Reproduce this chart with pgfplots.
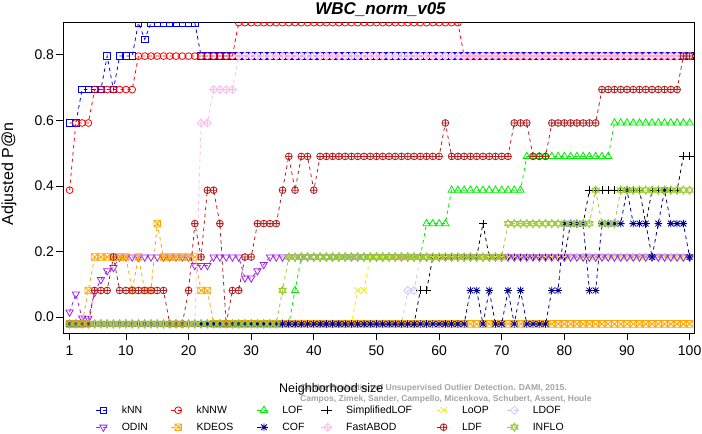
\documentclass[border=0pt]{standalone}
\usepackage{fontspec}
\setmainfont{Liberation Sans}
\usepackage{pgfplots}
\usepackage{pgfplotstable}
\pgfplotsset{compat=1.18}
\usetikzlibrary{plotmarks}

\definecolor{cKNN}{HTML}{0000FF}
\definecolor{cKNNW}{HTML}{FF0000}
\definecolor{cLOF}{HTML}{00EE00}
\definecolor{cLOOP}{HTML}{EEEE00}
\definecolor{cLDOF}{HTML}{C8C8FF}
\definecolor{cODIN}{HTML}{A020F0}
\definecolor{cKDEOS}{HTML}{FFA500}
\definecolor{cCOF}{HTML}{000090}
\definecolor{cFAB}{HTML}{FFBBEE}
\definecolor{cLDF}{HTML}{B22222}
\definecolor{cINF}{HTML}{9ACD32}

\pgfdeclareplotmark{sqx}{%
  \pgfsetdash{}{0pt}%
  \pgfpathrectangle{\pgfqpoint{-\pgfplotmarksize}{-\pgfplotmarksize}}{\pgfqpoint{2\pgfplotmarksize}{2\pgfplotmarksize}}%
  \pgfpathmoveto{\pgfqpoint{-\pgfplotmarksize}{-\pgfplotmarksize}}\pgfpathlineto{\pgfqpoint{\pgfplotmarksize}{\pgfplotmarksize}}%
  \pgfpathmoveto{\pgfqpoint{-\pgfplotmarksize}{\pgfplotmarksize}}\pgfpathlineto{\pgfqpoint{\pgfplotmarksize}{-\pgfplotmarksize}}%
  \pgfusepathqstroke}
\pgfdeclareplotmark{rsq}{%
  \pgfsetdash{}{0pt}%
  \pgfpathrectangle{\pgfqpoint{-\pgfplotmarksize}{-\pgfplotmarksize}}{\pgfqpoint{2\pgfplotmarksize}{2\pgfplotmarksize}}%
  \pgfusepathqstroke}
\pgfdeclareplotmark{rcirc}{%
  \pgfsetdash{}{0pt}%
  \pgfpathcircle{\pgfpointorigin}{\pgfplotmarksize}%
  \pgfusepathqstroke}
\pgfdeclareplotmark{rplus}{%
  \pgfsetdash{}{0pt}%
  \pgfpathmoveto{\pgfqpoint{-\pgfplotmarksize}{0pt}}\pgfpathlineto{\pgfqpoint{\pgfplotmarksize}{0pt}}%
  \pgfpathmoveto{\pgfqpoint{0pt}{-\pgfplotmarksize}}\pgfpathlineto{\pgfqpoint{0pt}{\pgfplotmarksize}}%
  \pgfusepathqstroke}
\pgfdeclareplotmark{rx}{%
  \pgfsetdash{}{0pt}%
  \pgfpathmoveto{\pgfqpoint{-\pgfplotmarksize}{-\pgfplotmarksize}}\pgfpathlineto{\pgfqpoint{\pgfplotmarksize}{\pgfplotmarksize}}%
  \pgfpathmoveto{\pgfqpoint{-\pgfplotmarksize}{\pgfplotmarksize}}\pgfpathlineto{\pgfqpoint{\pgfplotmarksize}{-\pgfplotmarksize}}%
  \pgfusepathqstroke}
\pgfdeclareplotmark{rstar}{%
  \pgfsetdash{}{0pt}%
  \pgfpathmoveto{\pgfqpoint{-\pgfplotmarksize}{0pt}}\pgfpathlineto{\pgfqpoint{\pgfplotmarksize}{0pt}}%
  \pgfpathmoveto{\pgfqpoint{0pt}{-\pgfplotmarksize}}\pgfpathlineto{\pgfqpoint{0pt}{\pgfplotmarksize}}%
  \pgfpathmoveto{\pgfqpoint{-.75\pgfplotmarksize}{-.75\pgfplotmarksize}}\pgfpathlineto{\pgfqpoint{.75\pgfplotmarksize}{.75\pgfplotmarksize}}%
  \pgfpathmoveto{\pgfqpoint{-.75\pgfplotmarksize}{.75\pgfplotmarksize}}\pgfpathlineto{\pgfqpoint{.75\pgfplotmarksize}{-.75\pgfplotmarksize}}%
  \pgfusepathqstroke}
\pgfdeclareplotmark{rdiam}{%
  \pgfsetdash{}{0pt}%
  \pgfpathmoveto{\pgfqpoint{0pt}{\pgfplotmarksize}}\pgfpathlineto{\pgfqpoint{\pgfplotmarksize}{0pt}}%
  \pgfpathlineto{\pgfqpoint{0pt}{-\pgfplotmarksize}}\pgfpathlineto{\pgfqpoint{-\pgfplotmarksize}{0pt}}\pgfpathclose
  \pgfusepathqstroke}
\pgfdeclareplotmark{dplus}{%
  \pgfsetdash{}{0pt}%
  \pgfpathmoveto{\pgfqpoint{0pt}{\pgfplotmarksize}}\pgfpathlineto{\pgfqpoint{\pgfplotmarksize}{0pt}}%
  \pgfpathlineto{\pgfqpoint{0pt}{-\pgfplotmarksize}}\pgfpathlineto{\pgfqpoint{-\pgfplotmarksize}{0pt}}\pgfpathclose
  \pgfpathmoveto{\pgfqpoint{-\pgfplotmarksize}{0pt}}\pgfpathlineto{\pgfqpoint{\pgfplotmarksize}{0pt}}%
  \pgfpathmoveto{\pgfqpoint{0pt}{-\pgfplotmarksize}}\pgfpathlineto{\pgfqpoint{0pt}{\pgfplotmarksize}}%
  \pgfusepathqstroke}
\pgfdeclareplotmark{roplus}{%
  \pgfsetdash{}{0pt}%
  \pgfpathcircle{\pgfpointorigin}{\pgfplotmarksize}%
  \pgfpathmoveto{\pgfqpoint{-\pgfplotmarksize}{0pt}}\pgfpathlineto{\pgfqpoint{\pgfplotmarksize}{0pt}}%
  \pgfpathmoveto{\pgfqpoint{0pt}{-\pgfplotmarksize}}\pgfpathlineto{\pgfqpoint{0pt}{\pgfplotmarksize}}%
  \pgfusepathqstroke}
\pgfdeclareplotmark{tridown}{%
  \pgfsetdash{}{0pt}%
  \pgfpathmoveto{\pgfqpoint{0pt}{-1.1\pgfplotmarksize}}%
  \pgfpathlineto{\pgfqpoint{.95\pgfplotmarksize}{.55\pgfplotmarksize}}%
  \pgfpathlineto{\pgfqpoint{-.95\pgfplotmarksize}{.55\pgfplotmarksize}}\pgfpathclose
  \pgfusepathqstroke}
\pgfdeclareplotmark{triup}{%
  \pgfsetdash{}{0pt}%
  \pgfpathmoveto{\pgfqpoint{0pt}{1.1\pgfplotmarksize}}%
  \pgfpathlineto{\pgfqpoint{.95\pgfplotmarksize}{-.55\pgfplotmarksize}}%
  \pgfpathlineto{\pgfqpoint{-.95\pgfplotmarksize}{-.55\pgfplotmarksize}}\pgfpathclose
  \pgfusepathqstroke}
\pgfdeclareplotmark{david}{%
  \pgfsetdash{}{0pt}%
  \pgfpathmoveto{\pgfqpoint{0pt}{1.1\pgfplotmarksize}}%
  \pgfpathlineto{\pgfqpoint{.95\pgfplotmarksize}{-.55\pgfplotmarksize}}%
  \pgfpathlineto{\pgfqpoint{-.95\pgfplotmarksize}{-.55\pgfplotmarksize}}\pgfpathclose
  \pgfpathmoveto{\pgfqpoint{0pt}{-1.1\pgfplotmarksize}}%
  \pgfpathlineto{\pgfqpoint{.95\pgfplotmarksize}{.55\pgfplotmarksize}}%
  \pgfpathlineto{\pgfqpoint{-.95\pgfplotmarksize}{.55\pgfplotmarksize}}\pgfpathclose
  \pgfusepathqstroke}

\pgfplotstableread{
k knn knnw lof slof loop ldof odin kdeos cof fabod ldf inflo
1 0.592 0.387 -0.021 -0.021 -0.021 -0.021 0.015 -0.021 -0.021 -0.021 -0.021 -0.021
2 0.592 0.592 -0.021 -0.021 -0.021 -0.021 0.070 -0.021 -0.021 -0.021 -0.021 -0.021
3 0.694 0.592 -0.021 -0.021 -0.021 -0.021 -0.003 -0.021 -0.021 -0.021 -0.021 -0.021
4 0.694 0.592 -0.021 -0.021 -0.021 -0.021 -0.004 0.081 -0.021 -0.021 -0.021 -0.021
5 0.694 0.694 -0.021 -0.021 -0.021 -0.021 0.075 0.183 -0.021 -0.021 0.081 -0.021
6 0.694 0.694 -0.021 -0.021 -0.021 -0.021 0.114 0.183 -0.021 -0.021 0.081 -0.021
7 0.796 0.694 -0.021 -0.021 -0.021 -0.021 0.141 0.183 -0.021 -0.021 0.081 -0.021
8 0.694 0.694 -0.021 -0.021 -0.021 -0.021 0.151 0.183 -0.021 -0.021 0.183 -0.021
9 0.796 0.694 -0.021 -0.021 -0.021 -0.021 0.183 0.183 -0.021 -0.021 0.081 -0.021
10 0.796 0.694 -0.021 -0.021 -0.021 -0.021 0.183 0.183 -0.021 -0.021 0.081 -0.021
11 0.796 0.694 -0.021 -0.021 -0.021 -0.021 0.183 0.081 -0.021 -0.021 0.081 -0.021
12 0.898 0.796 -0.021 -0.021 -0.021 -0.021 0.183 0.183 -0.021 -0.021 0.081 -0.021
13 0.847 0.796 -0.021 -0.021 -0.021 -0.021 0.183 0.081 -0.021 -0.021 0.081 -0.021
14 0.898 0.796 -0.021 -0.021 -0.021 -0.021 0.183 0.081 -0.021 -0.021 0.081 -0.021
15 0.898 0.796 -0.021 -0.021 -0.021 -0.021 0.183 0.285 -0.021 -0.021 0.081 -0.021
16 0.898 0.796 -0.021 -0.021 -0.021 -0.021 0.183 0.183 -0.021 -0.021 0.081 -0.021
17 0.898 0.796 -0.021 -0.021 -0.021 -0.021 0.183 0.183 -0.021 -0.021 -0.021 -0.021
18 0.898 0.796 -0.021 -0.021 -0.021 -0.021 0.183 0.183 -0.021 -0.021 -0.021 -0.021
19 0.898 0.796 -0.021 -0.021 -0.021 -0.021 0.183 0.183 -0.021 -0.021 -0.021 -0.021
20 0.898 0.796 -0.021 -0.021 -0.021 -0.021 0.183 0.183 -0.021 -0.021 0.081 -0.021
21 0.898 0.796 -0.021 -0.021 -0.021 -0.021 0.157 0.183 -0.021 -0.021 0.285 -0.021
22 0.796 0.796 -0.021 -0.021 -0.021 -0.021 0.157 0.081 -0.021 0.592 0.183 -0.021
23 0.796 0.796 -0.021 -0.021 -0.021 -0.021 0.157 0.081 -0.021 0.592 0.387 -0.021
24 0.796 0.796 -0.021 -0.021 -0.021 -0.021 0.183 -0.021 -0.021 0.694 0.387 -0.021
25 0.796 0.796 -0.021 -0.021 -0.021 -0.021 0.183 -0.021 -0.021 0.694 0.285 -0.021
26 0.796 0.796 -0.021 -0.021 -0.021 -0.021 0.183 -0.021 -0.021 0.694 -0.021 -0.021
27 0.796 0.796 -0.021 -0.021 -0.021 -0.021 0.183 -0.021 -0.021 0.694 0.081 -0.021
28 0.796 0.898 -0.021 -0.021 -0.021 -0.021 0.183 -0.021 -0.021 0.796 0.081 -0.021
29 0.796 0.898 -0.021 -0.021 -0.021 -0.021 0.119 -0.021 -0.021 0.796 0.183 -0.021
30 0.796 0.898 -0.021 -0.021 -0.021 -0.021 0.119 -0.021 -0.021 0.796 0.183 -0.021
31 0.796 0.898 -0.021 -0.021 -0.021 -0.021 0.141 -0.021 -0.021 0.796 0.285 -0.021
32 0.796 0.898 -0.021 -0.021 -0.021 -0.021 0.160 -0.021 -0.021 0.796 0.285 -0.021
33 0.796 0.898 -0.021 -0.021 -0.021 -0.021 0.183 -0.021 -0.021 0.796 0.285 -0.021
34 0.796 0.898 -0.021 -0.021 -0.021 -0.021 0.183 -0.021 -0.021 0.796 0.285 -0.021
35 0.796 0.898 -0.021 -0.021 -0.021 -0.021 0.183 -0.021 -0.021 0.796 0.387 0.081
36 0.796 0.898 -0.021 -0.021 -0.021 -0.021 0.183 -0.021 -0.021 0.796 0.490 0.183
37 0.796 0.898 0.081 -0.021 -0.021 -0.021 0.183 -0.021 -0.021 0.796 0.387 0.183
38 0.796 0.898 0.183 -0.021 -0.021 -0.021 0.183 -0.021 -0.021 0.796 0.490 0.183
39 0.796 0.898 0.183 -0.021 -0.021 -0.021 0.183 -0.021 -0.021 0.796 0.490 0.183
40 0.796 0.898 0.183 -0.021 -0.021 -0.021 0.183 -0.021 -0.021 0.796 0.387 0.183
41 0.796 0.898 0.183 -0.021 -0.021 -0.021 0.183 -0.021 -0.021 0.796 0.490 0.183
42 0.796 0.898 0.183 -0.021 -0.021 -0.021 0.183 -0.021 -0.021 0.796 0.490 0.183
43 0.796 0.898 0.183 -0.021 -0.021 -0.021 0.183 -0.021 -0.021 0.796 0.490 0.183
44 0.796 0.898 0.183 -0.021 -0.021 -0.021 0.183 -0.021 -0.021 0.796 0.490 0.183
45 0.796 0.898 0.183 -0.021 -0.021 -0.021 0.183 -0.021 -0.021 0.796 0.490 0.183
46 0.796 0.898 0.183 -0.021 -0.021 -0.021 0.183 -0.021 -0.021 0.796 0.490 0.183
47 0.796 0.898 0.183 -0.021 0.081 -0.021 0.183 -0.021 -0.021 0.796 0.490 0.183
48 0.796 0.898 0.183 -0.021 0.081 -0.021 0.183 -0.021 -0.021 0.796 0.490 0.183
49 0.796 0.898 0.183 -0.021 0.183 -0.021 0.183 -0.021 -0.021 0.796 0.490 0.183
50 0.796 0.898 0.183 -0.021 0.183 -0.021 0.183 -0.021 -0.021 0.796 0.490 0.183
51 0.796 0.898 0.183 -0.021 0.183 -0.021 0.183 -0.021 -0.021 0.796 0.490 0.183
52 0.796 0.898 0.183 -0.021 0.183 -0.021 0.183 -0.021 -0.021 0.796 0.490 0.183
53 0.796 0.898 0.183 -0.021 0.183 -0.021 0.183 -0.021 -0.021 0.796 0.490 0.183
54 0.796 0.898 0.183 -0.021 0.183 -0.021 0.183 -0.021 -0.021 0.796 0.490 0.183
55 0.796 0.898 0.183 -0.021 0.183 0.081 0.183 -0.021 -0.021 0.796 0.490 0.183
56 0.796 0.898 0.183 -0.021 0.183 0.081 0.183 -0.021 -0.021 0.796 0.490 0.183
57 0.796 0.898 0.183 0.081 0.183 0.183 0.183 -0.021 -0.021 0.796 0.490 0.183
58 0.796 0.898 0.285 0.081 0.183 0.183 0.183 -0.021 -0.021 0.796 0.490 0.183
59 0.796 0.898 0.285 0.183 0.183 0.183 0.183 -0.021 -0.021 0.796 0.490 0.183
60 0.796 0.898 0.285 0.183 0.183 0.183 0.183 -0.021 -0.021 0.796 0.490 0.183
61 0.796 0.898 0.285 0.183 0.183 0.183 0.183 -0.021 -0.021 0.796 0.592 0.183
62 0.796 0.898 0.387 0.183 0.183 0.183 0.183 -0.021 -0.021 0.796 0.490 0.183
63 0.796 0.898 0.387 0.183 0.183 0.183 0.183 -0.021 -0.021 0.796 0.490 0.183
64 0.796 0.796 0.387 0.183 0.183 0.183 0.183 -0.021 -0.021 0.796 0.490 0.183
65 0.796 0.796 0.387 0.183 0.183 0.183 0.183 -0.021 0.081 0.796 0.490 0.183
66 0.796 0.796 0.387 0.183 0.183 0.183 0.183 -0.021 0.081 0.796 0.490 0.183
67 0.796 0.796 0.387 0.285 0.183 0.183 0.183 -0.021 -0.021 0.796 0.490 0.183
68 0.796 0.796 0.387 0.183 0.183 0.183 0.183 -0.021 0.081 0.796 0.490 0.183
69 0.796 0.796 0.387 0.183 0.183 0.183 0.183 -0.021 -0.021 0.796 0.490 0.183
70 0.796 0.796 0.387 0.183 0.183 0.183 0.183 -0.021 -0.021 0.796 0.490 0.183
71 0.796 0.796 0.387 0.183 0.183 0.183 0.183 -0.021 0.081 0.796 0.490 0.285
72 0.796 0.796 0.387 0.183 0.183 0.183 0.183 -0.021 -0.021 0.796 0.592 0.285
73 0.796 0.796 0.387 0.183 0.183 0.183 0.183 -0.021 0.081 0.796 0.592 0.285
74 0.796 0.796 0.490 0.183 0.183 0.183 0.183 -0.021 -0.021 0.796 0.592 0.285
75 0.796 0.796 0.490 0.183 0.183 0.183 0.183 -0.021 -0.021 0.796 0.490 0.285
76 0.796 0.796 0.490 0.183 0.183 0.183 0.183 -0.021 -0.021 0.796 0.490 0.285
77 0.796 0.796 0.490 0.183 0.183 0.183 0.183 -0.021 -0.021 0.796 0.490 0.285
78 0.796 0.796 0.490 0.183 0.183 0.183 0.183 -0.021 0.081 0.796 0.592 0.285
79 0.796 0.796 0.490 0.183 0.183 0.183 0.183 -0.021 0.081 0.796 0.592 0.285
80 0.796 0.796 0.490 0.183 0.183 0.183 0.183 -0.021 0.285 0.796 0.592 0.285
81 0.796 0.796 0.490 0.285 0.183 0.183 0.183 -0.021 0.285 0.796 0.592 0.285
82 0.796 0.796 0.490 0.285 0.183 0.183 0.183 -0.021 0.285 0.796 0.592 0.285
83 0.796 0.796 0.490 0.285 0.183 0.183 0.183 -0.021 0.285 0.796 0.592 0.285
84 0.796 0.796 0.490 0.387 0.183 0.183 0.183 -0.021 0.081 0.796 0.592 0.285
85 0.796 0.796 0.490 0.387 0.183 0.183 0.183 -0.021 0.081 0.796 0.592 0.387
86 0.796 0.796 0.490 0.387 0.183 0.183 0.183 -0.021 0.285 0.796 0.694 0.285
87 0.796 0.796 0.490 0.387 0.183 0.183 0.183 -0.021 0.285 0.796 0.694 0.285
88 0.796 0.796 0.592 0.387 0.183 0.183 0.183 -0.021 0.285 0.796 0.694 0.285
89 0.796 0.796 0.592 0.387 0.183 0.183 0.183 -0.021 0.285 0.796 0.694 0.387
90 0.796 0.796 0.592 0.387 0.183 0.183 0.183 -0.021 0.387 0.796 0.694 0.387
91 0.796 0.796 0.592 0.387 0.183 0.183 0.183 -0.021 0.285 0.796 0.694 0.387
92 0.796 0.796 0.592 0.387 0.183 0.183 0.183 -0.021 0.285 0.796 0.694 0.387
93 0.796 0.796 0.592 0.285 0.183 0.183 0.183 -0.021 0.285 0.796 0.694 0.387
94 0.796 0.796 0.592 0.387 0.183 0.183 0.183 -0.021 0.183 0.796 0.694 0.387
95 0.796 0.796 0.592 0.387 0.183 0.183 0.183 -0.021 0.285 0.796 0.694 0.387
96 0.796 0.796 0.592 0.387 0.183 0.183 0.183 -0.021 0.387 0.796 0.694 0.387
97 0.796 0.796 0.592 0.387 0.183 0.183 0.183 -0.021 0.285 0.796 0.694 0.387
98 0.796 0.796 0.592 0.387 0.183 0.183 0.183 -0.021 0.285 0.796 0.694 0.387
99 0.796 0.796 0.592 0.490 0.183 0.183 0.183 -0.021 0.285 0.796 0.796 0.387
100 0.796 0.796 0.592 0.490 0.183 0.183 0.183 -0.021 0.183 0.796 0.796 0.387
}\datatab

\begin{document}
\begin{tikzpicture}
\useasboundingbox (-63bp,-101bp) rectangle (639bp,333bp);
\node[anchor=base west, text=black!36, inner sep=0pt, font=\fontsize{8.54bp}{10bp}\selectfont\bfseries] at (237bp,-57.7bp) {On the Evaluation of Unsupervised Outlier Detection. DAMI, 2015.};
\node[anchor=base west, text=black!36, inner sep=0pt, font=\fontsize{8.54bp}{10bp}\selectfont\bfseries] at (237bp,-68.7bp) {Campos, Zimek, Sander, Campello, Micenkova, Schubert, Assent, Houle};
\begin{axis}[
  width=631bp, height=311bp, scale only axis,
  xmin=-0.05, xmax=100.7, ymin=-0.0487, ymax=0.9,
  xtick={1,10,20,30,40,50,60,70,80,90,100},
  ytick={0,0.2,0.4,0.6,0.8}, yticklabels={0.0,0.2,0.4,0.6,0.8},
  tick pos=left, tick align=outside, major tick length=7bp,
  tick style={black, line width=0.8bp, solid},
  axis line style={line width=0.8bp},
  /pgf/number format/assume math mode=true,
  tick label style={font=\fontsize{14bp}{16bp}\selectfont},
  xticklabel style={yshift=-2bp},
  yticklabel style={xshift=1.5bp},
  title={WBC\_norm\_v05},
  title style={at={(axis description cs:0.5032,1.0058)}, anchor=base, inner sep=0pt, font=\fontsize{17bp}{20bp}\selectfont\bfseries\itshape},
  xlabel={Neighborhood size},
  xlabel style={at={(axis description cs:0.3423,-0.192)}, anchor=base west, inner sep=0pt, font=\fontsize{12.5bp}{15bp}\selectfont},
  ylabel={Adjusted P@n},
  ylabel style={at={(axis description cs:-0.0856,0.511)}, anchor=center, inner sep=0pt, font=\fontsize{16bp}{18bp}\selectfont},
  clip marker paths=true,
  dsh/.style={line width=0.8bp, dash pattern=on 3.5bp off 3.5bp, mark options={solid, line width=0.8bp}},
  legend columns=6,
  legend cell align=left,
  legend image code/.code={\draw[mark repeat=2,mark phase=2,#1] plot coordinates {(0bp,0bp) (7bp,0bp) (14bp,0bp)};},
  legend style={at={(axis description cs:0.0523,-0.2338)}, anchor=north west, draw=none, fill=none,
    inner sep=0pt, outer sep=0pt, row sep=8bp, font=\fontsize{10.5bp}{12bp}\selectfont,
    nodes={inner sep=0pt},
    /tikz/every odd column/.append style={column sep=11bp}},
]
\addplot[dsh, color=cKNN, mark=rsq, mark size=3.3bp] table[x=k,y=knn]{\datatab};
\addlegendentry{\makebox[49bp][l]{kNN}}
\addplot[dsh, color=cKNNW, mark=rcirc, mark size=3.4bp] table[x=k,y=knnw]{\datatab};
\addlegendentry{\makebox[60bp][l]{kNNW}}
\addplot[dsh, color=cLOF, mark=triup, mark size=3.8bp] table[x=k,y=lof]{\datatab};
\addlegendentry{\makebox[38bp][l]{LOF}}
\addplot[dsh, color=black, mark=rplus, mark size=4bp] table[x=k,y=slof]{\datatab};
\addlegendentry{\makebox[90bp][l]{SimplifiedLOF}}
\addplot[dsh, color=cLOOP, mark=rx, mark size=3.1bp] table[x=k,y=loop]{\datatab};
\addlegendentry{\makebox[45bp][l]{LoOP}}
\addplot[dsh, color=cLDOF, mark=rdiam, mark size=4bp] table[x=k,y=ldof]{\datatab};
\addlegendentry{\makebox[40bp][l]{LDOF}}
\addplot[dsh, color=cODIN, mark=tridown, mark size=3.8bp] table[x=k,y=odin]{\datatab};
\addlegendentry{\makebox[49bp][l]{ODIN}}
\addplot[dsh, color=cKDEOS, mark=sqx, mark size=3.3bp] table[x=k,y=kdeos]{\datatab};
\addlegendentry{\makebox[60bp][l]{KDEOS}}
\addplot[dsh, color=cCOF, mark=rstar, mark size=3.8bp] table[x=k,y=cof]{\datatab};
\addlegendentry{\makebox[38bp][l]{COF}}
\addplot[dsh, color=cFAB, mark=dplus, mark size=4bp] table[x=k,y=fabod]{\datatab};
\addlegendentry{\makebox[90bp][l]{FastABOD}}
\addplot[dsh, color=cLDF, mark=roplus, mark size=3.4bp] table[x=k,y=ldf]{\datatab};
\addlegendentry{\makebox[45bp][l]{LDF}}
\addplot[dsh, color=cINF, mark=david, mark size=3.8bp] table[x=k,y=inflo]{\datatab};
\addlegendentry{\makebox[40bp][l]{INFLO}}
\end{axis}
\end{tikzpicture}
\end{document}
